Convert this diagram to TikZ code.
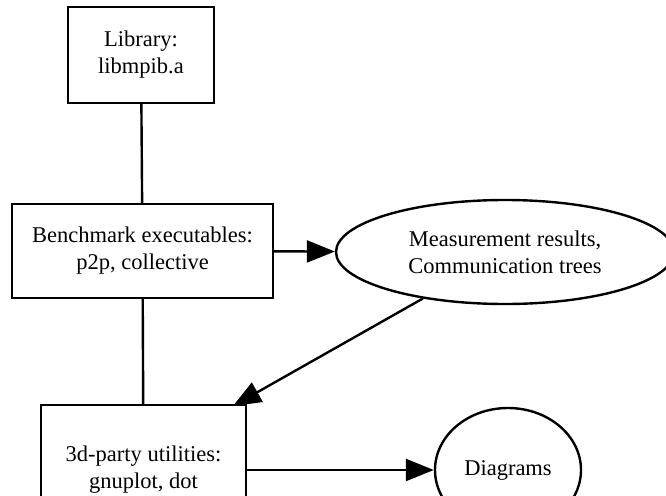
\documentclass[tikz,border=0pt]{standalone}
\usepackage{fontspec}
\setmainfont{Liberation Serif}
\usetikzlibrary{shapes.geometric,arrows.meta}
\begin{document}
\begin{tikzpicture}[x=1pt,y=-1pt,
  line width=2.4pt,
  every node/.style={font=\fontsize{22.5}{27}\selectfont, align=center, inner sep=0pt},
  boxnode/.style={draw, rectangle},
  ovalnode/.style={draw, ellipse},
  arrowline/.style={-{Triangle[length=28pt,width=22pt]}}]
  \useasboundingbox (0,0) rectangle (666,495);

  % nodes
  \node[boxnode, minimum width=146pt, minimum height=96pt] (lib) at (141,55) {Library:\\libmpib.a};
  \node[boxnode, minimum width=261pt, minimum height=94pt] (bench) at (142.5,251) {Benchmark executables:\\p2p, collective};
  \node[ovalnode, minimum width=338pt, minimum height=104pt] (meas) at (505,252) {Measurement results,\\Communication trees};
  \node[boxnode, minimum width=205pt, minimum height=130pt] (util) at (143.5,470) {3d-party utilities:\\gnuplot, dot};
  \node[ovalnode, minimum width=146pt, minimum height=124pt] (diag) at (508,470) {Diagrams};
  \coordinate (tip) at (233,406);

  % connectors
  \draw (lib) -- (bench);
  \draw (bench) -- (util);
  \draw[arrowline] (bench) -- (meas);
  \draw[arrowline] (meas) -- (tip);
  \draw[arrowline] (util) -- (diag);
\end{tikzpicture}
\end{document}
